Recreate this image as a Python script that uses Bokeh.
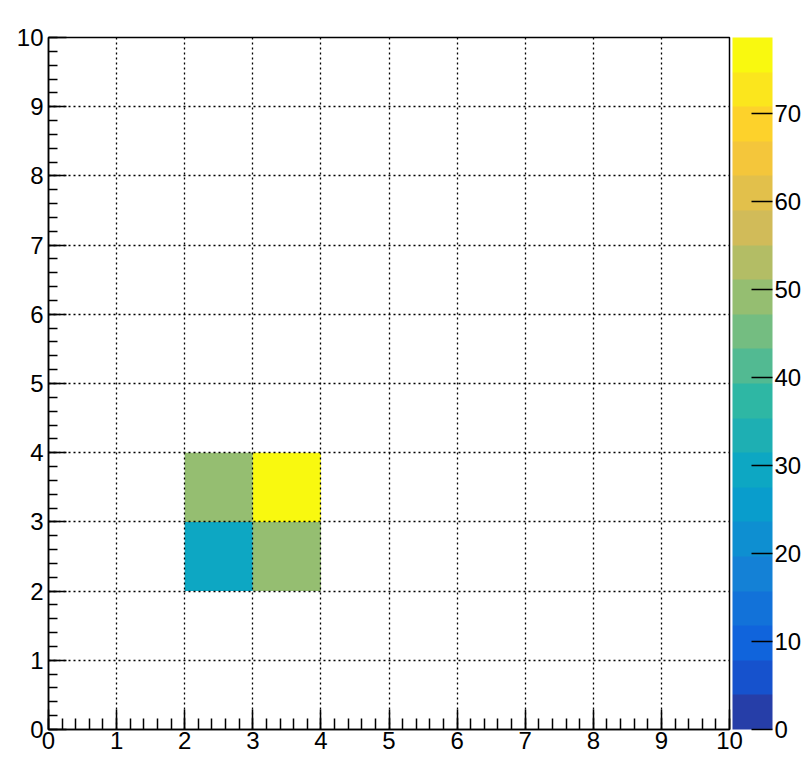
from bokeh.plotting import figure
from bokeh.models import (Range1d, LinearColorMapper, ColorBar, SingleIntervalTicker,
                          FixedTicker, ColumnDataSource)
from bokeh.embed import file_html
from bokeh.resources import INLINE
import math

# ---- data ----
x_low = [2, 2, 3, 3]          # bin lower x edges
y_low = [2, 3, 2, 3]          # bin lower y edges
counts = [30, 50, 50, 78]     # bin contents
bin_width = 1
z_min = 0
z_max = 78.6                  # top of the colour scale
n_contours = 20
colorbar_ticks = [0, 10, 20, 30, 40, 50, 60, 70]

# ---- ROOT kBird palette (255-colour gradient, 20 contours) ----
stops = [0.0000, 0.1250, 0.2500, 0.3750, 0.5000, 0.6250, 0.7500, 0.8750, 1.0000]
red = [0.2082, 0.0592, 0.0780, 0.0232, 0.1802, 0.5301, 0.8186, 0.9956, 0.9764]
green = [0.1664, 0.3599, 0.5041, 0.6419, 0.7178, 0.7492, 0.7328, 0.7862, 0.9832]
blue = [0.5293, 0.8684, 0.8385, 0.7914, 0.6425, 0.4662, 0.3499, 0.1968, 0.0539]
NCOL = 255
grad = []
for g in range(1, len(stops)):
    n = int(math.floor(NCOL * stops[g]) - math.floor(NCOL * stops[g - 1]))
    for c in range(n):
        r = red[g - 1] + c * (red[g] - red[g - 1]) / n
        gg = green[g - 1] + c * (green[g] - green[g - 1]) / n
        b = blue[g - 1] + c * (blue[g] - blue[g - 1]) / n
        grad.append("#%02x%02x%02x" % (int(r * 255 + 0.5), int(gg * 255 + 0.5), int(b * 255 + 0.5)))
palette = [grad[min(int((i + 0.99) * NCOL / n_contours), len(grad) - 1)] for i in range(n_contours)]

mapper = LinearColorMapper(palette=palette, low=z_min, high=z_max)

src = ColumnDataSource(dict(
    left=x_low, right=[v + bin_width for v in x_low],
    bottom=y_low, top=[v + bin_width for v in y_low],
    z=counts))

FONT = "Liberation Sans"
FS = "24px"

p = figure(frame_width=681, frame_height=692,
           x_range=Range1d(0, 10), y_range=Range1d(0, 10),
           output_backend="svg", toolbar_location=None,
           min_border_left=48, min_border_top=37, min_border_bottom=31, min_border_right=0)

p.quad(left="left", right="right", bottom="bottom", top="top", source=src,
       fill_color={"field": "z", "transform": mapper}, line_color=None)

ticker = SingleIntervalTicker(interval=1, num_minor_ticks=5)
for ax in (p.xaxis[0], p.yaxis[0]):
    ax.ticker = ticker
    ax.major_tick_out = 0
    ax.minor_tick_out = 0
    ax.axis_line_width = 1.5
    ax.major_tick_line_width = 1.5
    ax.minor_tick_line_width = 1.5
    ax.axis_line_color = "black"
    ax.major_tick_line_color = "black"
    ax.minor_tick_line_color = "black"
    ax.major_label_text_font = FONT
    ax.major_label_text_font_size = FS
    ax.major_label_text_color = "black"
p.xaxis.major_tick_in = 20
p.xaxis.minor_tick_in = 11
p.yaxis.major_tick_in = 18
p.yaxis.minor_tick_in = 9
p.xaxis.major_label_standoff = 2
p.yaxis.major_label_standoff = 5

for gr in (p.xgrid[0], p.ygrid[0]):
    gr.ticker = ticker
    gr.grid_line_color = "black"
    gr.grid_line_dash = "2 3"
    gr.grid_line_width = 1.3
    gr.level = "overlay"

p.outline_line_color = "black"
p.outline_line_width = 1.5
p.background_fill_color = "white"
p.border_fill_color = "white"

cb = ColorBar(color_mapper=mapper, ticker=FixedTicker(ticks=colorbar_ticks),
              width=40, height=692, margin=0, padding=0, location=(3, 0),
              major_tick_in=21, major_tick_out=0,
              major_tick_line_color="black", major_tick_line_width=1.5,
              minor_tick_line_color=None,
              bar_line_color=None,
              major_label_text_font=FONT, major_label_text_font_size=FS,
              major_label_text_color="black",
              label_standoff=2, background_fill_color="white",
              border_line_color=None)
p.add_layout(cb, "right")

open("out.html", "w").write(file_html(p, INLINE))
